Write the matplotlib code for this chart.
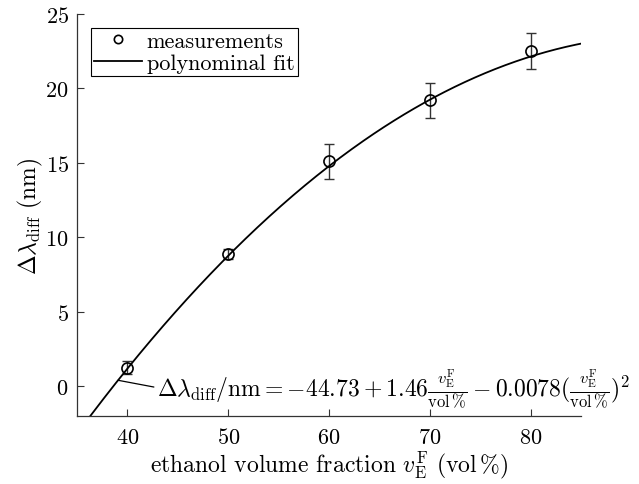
import matplotlib
matplotlib.use("Agg")
import matplotlib.pyplot as plt
import numpy as np

matplotlib.rcParams["font.family"] = "serif"
matplotlib.rcParams["font.serif"] = ["cmr10"]
matplotlib.rcParams["mathtext.fontset"] = "cm"
matplotlib.rcParams["axes.formatter.use_mathtext"] = True

# measured shift vs. ethanol fraction
fraction = [40, 50, 60, 70, 80]
shift = [1.25, 8.9, 15.1, 19.2, 22.5]
shift_err = [0.45, 0.35, 1.15, 1.15, 1.2]

# quadratic fit coefficients (c0 + c1*v + c2*v^2)
fit_coef = [-44.73, 1.46, -0.0078]

fig = plt.figure(figsize=(6.39, 4.85), dpi=100)
ax = fig.add_axes([0.1205, 0.140, 0.789, 0.829])

v = np.linspace(35, 85, 300)
fit = fit_coef[0] + fit_coef[1] * v + fit_coef[2] * v ** 2

ax.errorbar(fraction, shift, yerr=shift_err, fmt="none", ecolor="#333333",
            elinewidth=1.0, capsize=3.6, capthick=1.0, zorder=2)
ax.plot(fraction, shift, "o", ms=8, mfc="none", mec="black", mew=1.2,
        label="measurements", zorder=3)
ax.plot(v, fit, "-", color="black", lw=1.3, label="polynominal fit", zorder=2)

ax.set_xlim(35, 85)
ax.set_ylim(-2, 25)
ax.set_xticks([40, 50, 60, 70, 80])
ax.set_yticks([0, 5, 10, 15, 20, 25])
ax.tick_params(direction="in", length=5, labelsize=16, color="#333333")
ax.tick_params(axis="x", pad=8)
ax.tick_params(axis="y", pad=6)
for side in ["top", "right"]:
    ax.spines[side].set_visible(False)
for side in ["left", "bottom"]:
    ax.spines[side].set_color("#333333")
    ax.spines[side].set_linewidth(0.9)

ax.set_xlabel(r"ethanol volume fraction $v_\mathrm{E}^\mathrm{F}$ (vol$\,\%$)", fontsize=17, labelpad=1)
ax.set_ylabel(r"$\Delta\lambda_\mathrm{diff}$ (nm)", fontsize=17, labelpad=0)

x0 = 39.07
y0 = fit_coef[0] + fit_coef[1] * x0 + fit_coef[2] * x0 ** 2
ax.annotate(
    r"$\Delta\lambda_\mathrm{diff}/\mathrm{nm} = -44.73 + 1.46\frac{v_\mathrm{E}^\mathrm{F}}{\mathrm{vol}\,\%}"
    r" - 0.0078(\frac{v_\mathrm{E}^\mathrm{F}}{\mathrm{vol}\,\%})^2$",
    xy=(x0, y0), xytext=(42.9, -0.6), ha="left", va="baseline", fontsize=17,
    arrowprops=dict(arrowstyle="-", color="black", lw=0.9, shrinkA=0, shrinkB=0,
                    relpos=(0, 0.5)),
)

leg = ax.legend(loc="upper left", bbox_to_anchor=(0.028, 0.965), fontsize=16,
                fancybox=False, edgecolor="black", framealpha=1, markerscale=0.75,
                handlelength=2.15, handletextpad=0.2, borderpad=0.15,
                labelspacing=0.1, borderaxespad=0)
leg.get_frame().set_linewidth(0.8)

fig.savefig("out.png", dpi=100)
